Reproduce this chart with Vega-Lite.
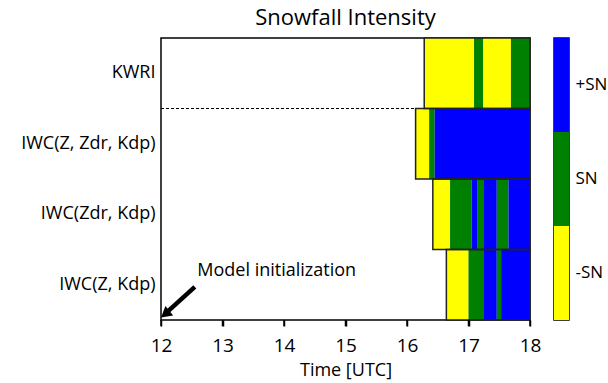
{
  "$schema": "https://vega.github.io/schema/vega-lite/v6.json",
  "padding": {"left": 5, "top": 6, "right": 0, "bottom": 0},
  "background": "white",
  "bounds": "flush",
  "spacing": 24,
  "config": {
    "font": "Open Sans",
    "view": {"stroke": "black", "strokeWidth": 1.5},
    "axis": {"labelFont": "Open Sans", "titleFont": "Open Sans", "labelColor": "black", "titleColor": "black", "labelFontSize": 18, "titleFontSize": 18, "titleFontWeight": "normal", "domainColor": "black", "tickColor": "black"},
    "axisX": {"ticks": true, "tickSize": 6, "tickWidth": 1.5, "tickColor": "black", "labelFlush": false, "labelPadding": 10, "domain": false, "titlePadding": 6, "labelFontSize": 19, "grid": false}
  },
  "datasets": {
    "segments": [
      {"row": "KWRI", "start": 16.28, "end": 17.09, "cat": "-SN"},
      {"row": "KWRI", "start": 17.09, "end": 17.24, "cat": "SN"},
      {"row": "KWRI", "start": 17.24, "end": 17.69, "cat": "-SN"},
      {"row": "KWRI", "start": 17.69, "end": 18.0, "cat": "SN"},
      {"row": "IWC(Z, Zdr, Kdp)", "start": 16.14, "end": 16.36, "cat": "-SN"},
      {"row": "IWC(Z, Zdr, Kdp)", "start": 16.36, "end": 16.45, "cat": "SN"},
      {"row": "IWC(Z, Zdr, Kdp)", "start": 16.45, "end": 18.0, "cat": "+SN"},
      {"row": "IWC(Zdr, Kdp)", "start": 16.42, "end": 16.7, "cat": "-SN"},
      {"row": "IWC(Zdr, Kdp)", "start": 16.7, "end": 17.05, "cat": "SN"},
      {"row": "IWC(Zdr, Kdp)", "start": 17.05, "end": 17.15, "cat": "+SN"},
      {"row": "IWC(Zdr, Kdp)", "start": 17.15, "end": 17.24, "cat": "SN"},
      {"row": "IWC(Zdr, Kdp)", "start": 17.24, "end": 17.46, "cat": "+SN"},
      {"row": "IWC(Zdr, Kdp)", "start": 17.46, "end": 17.65, "cat": "SN"},
      {"row": "IWC(Zdr, Kdp)", "start": 17.65, "end": 18.0, "cat": "+SN"},
      {"row": "IWC(Z, Kdp)", "start": 16.64, "end": 17.0, "cat": "-SN"},
      {"row": "IWC(Z, Kdp)", "start": 17.0, "end": 17.24, "cat": "SN"},
      {"row": "IWC(Z, Kdp)", "start": 17.24, "end": 17.46, "cat": "+SN"},
      {"row": "IWC(Z, Kdp)", "start": 17.46, "end": 17.53, "cat": "SN"},
      {"row": "IWC(Z, Kdp)", "start": 17.53, "end": 18.0, "cat": "+SN"}
    ],
    "separator": [{"row": "IWC(Z, Zdr, Kdp)", "x0": 12, "x1": 18}],
    "ticks": [
      {"t": 12, "y0": 0, "y1": -0.09}, {"t": 13, "y0": 0, "y1": -0.09}, {"t": 14, "y0": 0, "y1": -0.09},
      {"t": 15, "y0": 0, "y1": -0.09}, {"t": 16, "y0": 0, "y1": -0.09}, {"t": 17, "y0": 0, "y1": -0.09},
      {"t": 18, "y0": 0, "y1": -0.09}
    ],
    "arrow": [{"x0": 12.55, "y0": 0.47, "x1": 12.12, "y1": 0.13}],
    "arrowhead": [{"x": 12.09, "y": 0.1}],
    "note": [{"x": 12.59, "y": 0.69, "label": "Model initialization"}],
    "bar": [{"cat": "+SN"}, {"cat": "SN"}, {"cat": "-SN"}]
  },
  "hconcat": [
    {
      "width": 369,
      "height": 282,
      "title": {"text": "Snowfall Intensity", "fontSize": 22, "fontWeight": "normal", "font": "Open Sans", "anchor": "middle", "offset": 7, "color": "black"},
      "layer": [
        {
          "layer": [
            {
              "data": {"name": "separator"},
              "mark": {"type": "rule", "strokeDash": [3, 2], "color": "black", "strokeWidth": 1},
              "encoding": {
                "y": {"field": "row", "type": "nominal", "bandPosition": 0, "scale": {"domain": ["KWRI", "IWC(Z, Zdr, Kdp)", "IWC(Zdr, Kdp)", "IWC(Z, Kdp)"], "paddingInner": 0, "paddingOuter": 0}, "axis": {"title": null, "ticks": false, "domain": false, "labelPadding": 6, "minExtent": 155, "maxExtent": 155, "labelFontSize": 18}},
                "x": {"field": "x0", "type": "quantitative", "scale": {"domain": [12, 18], "nice": false, "zero": false}, "axis": {"title": "Time [UTC]", "values": [12, 13, 14, 15, 16, 17, 18], "format": "d"}},
                "x2": {"field": "x1"}
              }
            },
            {
              "data": {"name": "segments"},
              "mark": {"type": "rect", "strokeWidth": 0},
              "encoding": {
                "y": {"field": "row", "type": "nominal"},
                "x": {"field": "start", "type": "quantitative", "scale": {"domain": [12, 18], "nice": false, "zero": false}},
                "x2": {"field": "end"},
                "color": {"field": "cat", "type": "nominal", "scale": {"domain": ["+SN", "SN", "-SN"], "range": ["#0000FF", "#008000", "#FFFF00"]}, "legend": null}
              }
            },
            {
              "data": {"name": "segments"},
              "transform": [{"aggregate": [{"op": "min", "field": "start", "as": "s"}, {"op": "max", "field": "end", "as": "e"}], "groupby": ["row"]}],
              "mark": {"type": "rect", "fill": null, "fillOpacity": 0, "stroke": "#222222", "strokeWidth": 1.5},
              "encoding": {
                "y": {"field": "row", "type": "nominal"},
                "x": {"field": "s", "type": "quantitative", "scale": {"domain": [12, 18], "nice": false, "zero": false}},
                "x2": {"field": "e"}
              }
            }
          ]
        },
        {
          "layer": [
            {
              "data": {"name": "ticks"},
              "mark": {"type": "rule", "color": "black", "strokeWidth": 1.5, "clip": false},
              "encoding": {
                "x": {"field": "t", "type": "quantitative", "scale": {"domain": [12, 18], "nice": false, "zero": false}},
                "y": {"field": "y0", "type": "quantitative", "scale": {"domain": [0, 4], "nice": false, "zero": false}, "axis": null},
                "y2": {"field": "y1"}
              }
            },
            {
              "data": {"name": "arrow"},
              "mark": {"type": "rule", "color": "black", "strokeWidth": 4.5},
              "encoding": {
                "x": {"field": "x0", "type": "quantitative", "scale": {"domain": [12, 18], "nice": false, "zero": false}},
                "x2": {"field": "x1"},
                "y": {"field": "y0", "type": "quantitative", "axis": null},
                "y2": {"field": "y1"}
              }
            },
            {
              "data": {"name": "arrowhead"},
              "mark": {"type": "point", "shape": "triangle", "filled": true, "color": "black", "opacity": 1, "size": 150, "angle": 231},
              "encoding": {
                "x": {"field": "x", "type": "quantitative", "scale": {"domain": [12, 18], "nice": false, "zero": false}},
                "y": {"field": "y", "type": "quantitative", "axis": null}
              }
            },
            {
              "data": {"name": "note"},
              "mark": {"type": "text", "align": "left", "baseline": "middle", "fontSize": 18, "font": "Open Sans", "color": "black"},
              "encoding": {
                "x": {"field": "x", "type": "quantitative", "scale": {"domain": [12, 18], "nice": false, "zero": false}},
                "y": {"field": "y", "type": "quantitative", "axis": null},
                "text": {"field": "label"}
              }
            }
          ]
        }
      ],
      "resolve": {"scale": {"y": "independent"}, "axis": {"y": "independent"}}
    },
    {
      "width": 15,
      "height": 282,
      "data": {"name": "bar"},
      "mark": {"type": "rect", "strokeWidth": 0},
      "encoding": {
        "y": {"field": "cat", "type": "nominal", "sort": ["+SN", "SN", "-SN"], "scale": {"paddingInner": 0, "paddingOuter": 0}, "axis": {"orient": "right", "title": null, "ticks": false, "domain": false, "labelPadding": 6, "labelFontSize": 17, "labelAngle": 0}},
        "color": {"field": "cat", "type": "nominal", "scale": {"domain": ["+SN", "SN", "-SN"], "range": ["#0000FF", "#008000", "#FFFF00"]}, "legend": null}
      }
    }
  ],
  "resolve": {"scale": {"color": "independent"}}
}
